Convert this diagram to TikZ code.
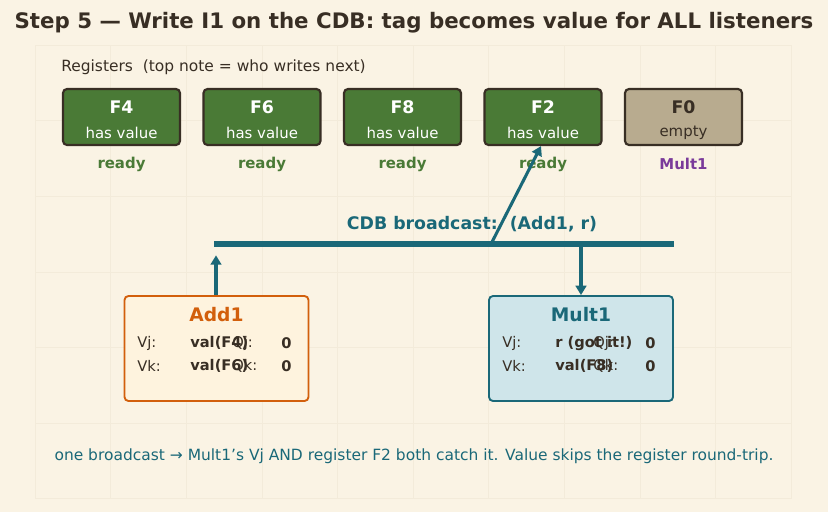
\documentclass[tikz,border=0pt]{standalone}
\usepackage{fontspec}
\setmainfont{DejaVu Sans}
\usetikzlibrary{arrows.meta}
\begin{document}
\begin{tikzpicture}[x=0.75pt, y=-0.75pt, every node/.style={inner sep=0pt}]
        \definecolor{paper}{RGB}{250,243,228}
        \definecolor{gridline}{RGB}{243,235,218}
        \definecolor{ink}{RGB}{56,46,36}
        \definecolor{regfull}{RGB}{74,122,54}
        \definecolor{regempty}{RGB}{184,171,143}
        \definecolor{bus}{RGB}{26,104,120}
        \definecolor{addline}{RGB}{210,95,12}
        \definecolor{addfill}{RGB}{254,243,222}
        \definecolor{multfill}{RGB}{207,229,234}
        \definecolor{tagpurple}{RGB}{122,58,154}
        \tikzset{
          reg/.style={draw=ink, line width=1.6pt, rounded corners=3pt, minimum width=87.75pt, minimum height=42pt},
          rs/.style={line width=1.4pt, rounded corners=3pt, minimum width=138pt, minimum height=78.75pt},
          busarrow/.style={bus, line width=2.3pt, -{Triangle[length=7pt, width=8pt]}},
          lbl/.style={font=\fontsize{11}{13}\selectfont, text=ink, anchor=west},
          val/.style={font=\fontsize{11}{13}\selectfont\bfseries, text=ink, anchor=west}
        }
        \useasboundingbox (0,0) rectangle (828,512);
        \fill[paper] (0,0) rectangle (828,512);
        \foreach \gx in {0,...,10} \draw[gridline, line width=0.3pt] (35+75.6*\gx,45) -- (35+75.6*\gx,499);
        \foreach \gy in {0,...,6} \draw[gridline, line width=0.3pt] (35,45+75.6*\gy) -- (791,45+75.6*\gy);
        \node[font=\fontsize{16}{19}\selectfont\bfseries, text=ink] (title) at (414,23) {Step 5 — Write I1 on the CDB: tag becomes value for ALL listeners};
        \node[font=\fontsize{11.6}{14}\selectfont, text=ink, anchor=west] (reghead) at (61,67) {Registers\ \ (top note = who writes next)};
        % register file
        \foreach \name/\cx/\state/\tag/\tcol in {F4/121.5/has value/ready/regfull, F6/262/has value/ready/regfull, F8/402.5/has value/ready/regfull, F2/543/has value/ready/regfull} {
          \node[reg, fill=regfull] (\name) at (\cx,117) {};
          \node[font=\fontsize{13}{15}\selectfont\bfseries, text=white] at (\cx,107) {\name};
          \node[font=\fontsize{11.2}{13}\selectfont, text=white] at (\cx,133) {\state};
          \node[font=\fontsize{11.2}{13}\selectfont\bfseries, text=\tcol] (\name tag) at (\cx,164) {\tag};
        }
        \node[reg, fill=regempty] (F0) at (683.5,117) {};
        \node[font=\fontsize{13}{15}\selectfont\bfseries, text=ink] at (683.5,107) {F0};
        \node[font=\fontsize{11.2}{13}\selectfont, text=ink] at (683.5,133) {empty};
        \node[font=\fontsize{11.2}{13}\selectfont\bfseries, text=tagpurple] (F0tag) at (683.5,164) {Mult1};
        % common data bus
        \coordinate (busL) at (214,244);
        \coordinate (busR) at (674,244);
        \coordinate (busF2) at (491,244);
        \coordinate (busAdd) at (216,244);
        \coordinate (busMult) at (581,244);
        \draw[bus, line width=4pt] (busL) -- (busR);
        \node[font=\fontsize{13}{15}\selectfont\bfseries, text=bus] (cdb) at (472,224) {CDB broadcast:\ \ (Add1, r)};
        % reservation stations
        \node[rs, draw=addline, fill=addfill] (Add1) at (216.5,348.5) {};
        \node[font=\fontsize{14}{16}\selectfont\bfseries, text=addline] at (216.5,315) {Add1};
        \node[lbl] at (137,343) {Vj:};
        \node[lbl] at (137,366) {Vk:};
        \node[lbl] at (232,343) {Qj:};
        \node[lbl] at (232,366) {Qk:};
        \node[val] at (190,343) {val(F4)};
        \node[val] at (190,366) {val(F6)};
        \node[val] at (281,343) {0};
        \node[val] at (281,366) {0};
        \node[rs, draw=bus, fill=multfill] (Mult1) at (581,348.5) {};
        \node[font=\fontsize{14}{16}\selectfont\bfseries, text=bus] at (581,315) {Mult1};
        \node[lbl] at (502,343) {Vj:};
        \node[lbl] at (502,366) {Vk:};
        \node[lbl] at (593,343) {Qj:};
        \node[lbl] at (593,366) {Qk:};
        \node[val] at (555,343) {r (got it!)};
        \node[val] at (555,366) {val(F8)};
        \node[val] at (645,343) {0};
        \node[val] at (645,366) {0};
        % connectors
        \draw[busarrow] (Add1.north -| busAdd) -- ([yshift=-8.5pt]busAdd);
        \draw[busarrow] (busMult) -- (Mult1.north -| busMult);
        \draw[busarrow] (busF2) -- ([xshift=-1.5pt]F2.south);
        \node[font=\fontsize{11.6}{14}\selectfont, text=bus] (note) at (414,456) {one broadcast → Mult1{\char"27}s Vj AND register F2 both catch it. Value skips the register round-trip.};
      \end{tikzpicture}
\end{document}
